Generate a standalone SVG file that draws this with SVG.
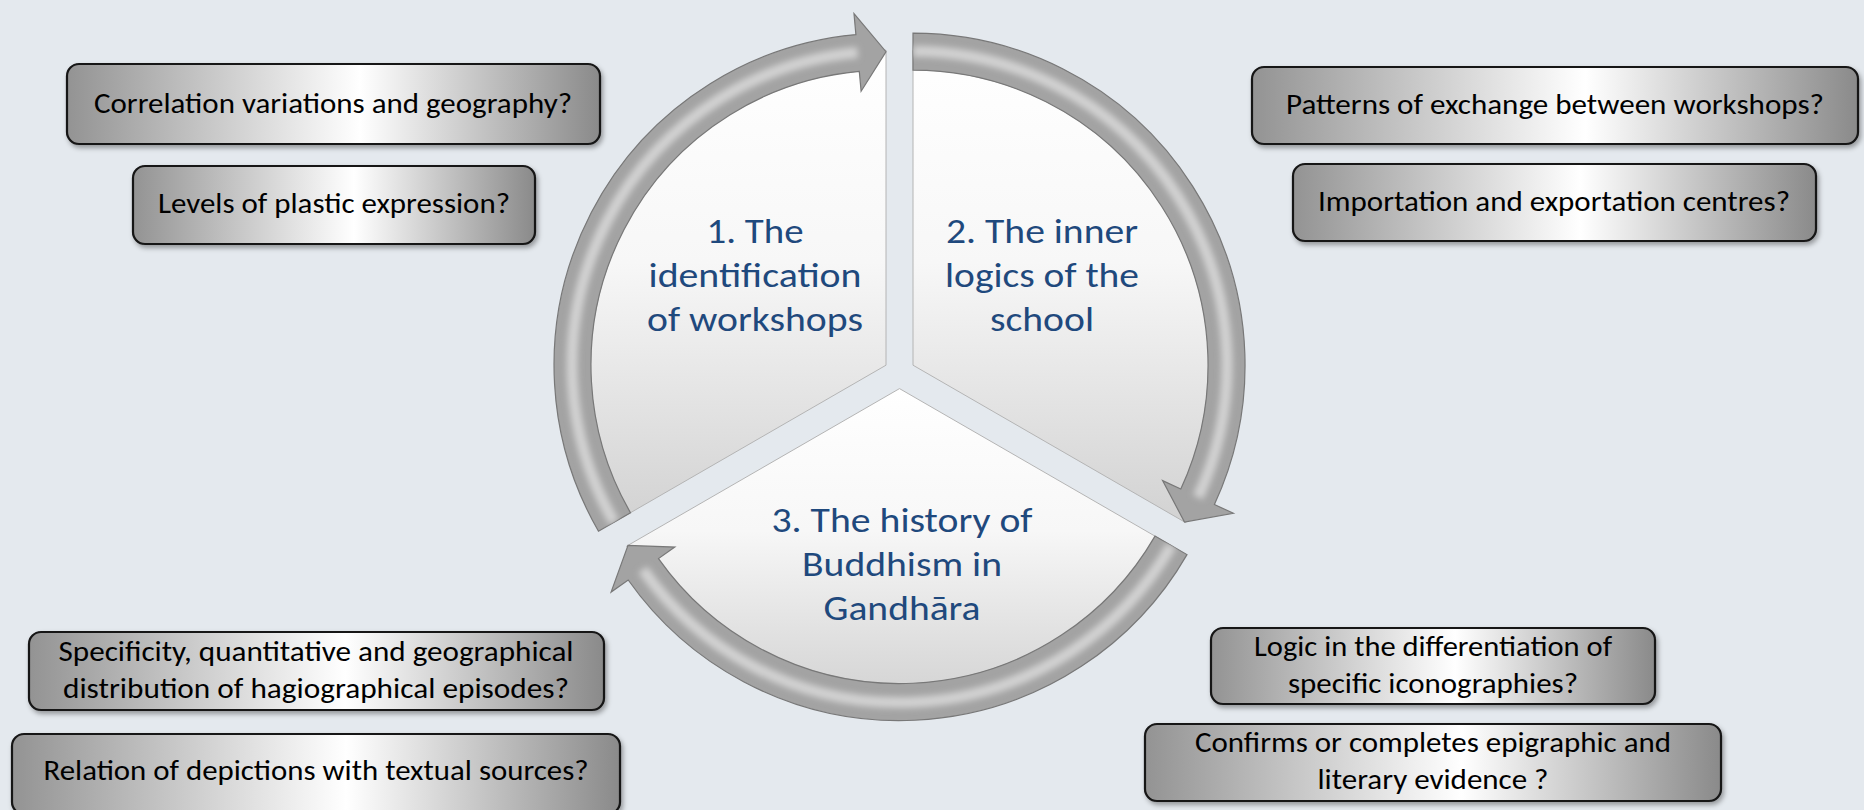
<svg xmlns="http://www.w3.org/2000/svg" xmlns:xlink="http://www.w3.org/1999/xlink" width="1864" height="810" viewBox="0 0 1864 810">
  <style>
    .box { stroke: #141414; stroke-width: 2.2; fill: url(#boxGrad); filter: url(#shadow); }
    .btxt { font-family: Carlito, Lato, "Liberation Sans", sans-serif; font-size: 28px; fill: #000000; text-anchor: middle; }
    .ctxt { font-family: Carlito, Lato, "Liberation Sans", sans-serif; font-size: 35px; fill: #1f497d; text-anchor: middle; }
    .slice { fill: url(#sliceGrad); stroke: #b4b4b4; stroke-width: 1; }
    .ring { fill: #a3a3a3; stroke: #787878; stroke-width: 1.2; }
    .hl { fill: none; stroke: #d2d2d2; stroke-width: 11; filter: url(#blur); }
  </style>
  <defs>
    <linearGradient id="boxGrad" x1="0" y1="0" x2="1" y2="0">
      <stop offset="0" stop-color="#939393"/>
      <stop offset="0.55" stop-color="#ffffff"/>
      <stop offset="1" stop-color="#8a8a8a"/>
    </linearGradient>
    <linearGradient id="sliceGrad" x1="0" y1="0" x2="0" y2="1">
      <stop offset="0" stop-color="#ffffff"/>
      <stop offset="0.45" stop-color="#f7f7f7"/>
      <stop offset="1" stop-color="#d2d2d2"/>
    </linearGradient>
    <filter id="shadow" x="-5%" y="-20%" width="110%" height="150%">
      <feDropShadow dx="2" dy="3" stdDeviation="2.5" flood-color="#000" flood-opacity="0.35"/>
    </filter>
    <filter id="blur" x="-10%" y="-10%" width="120%" height="120%">
      <feGaussianBlur stdDeviation="3"/>
    </filter>
    <path id="arrow1" d="M598.5 531.2 A332 332 0 0 1 855.9 34.6 L854 13.7 L886 51.7 L861.1 91.3 L859.3 71.4 A295 295 0 0 0 630.5 512.7 Z"/>
    <path id="arrow2" d="M913 33.2 A332 332 0 0 1 1214.4 504.5 L1233.4 513.3 L1184.5 522 L1162.6 480.6 L1180.8 489 A295 295 0 0 0 913 70.2 Z"/>
    <path id="arrow3" d="M1187 554.6 A332 332 0 0 1 628.2 580 L611.1 592.1 L628 545.4 L674.8 547.1 L658.5 558.6 A295 295 0 0 0 1155 536.1 Z"/>
    <clipPath id="clip1"><use xlink:href="#arrow1"/></clipPath>
    <clipPath id="clip2"><use xlink:href="#arrow2"/></clipPath>
    <clipPath id="clip3"><use xlink:href="#arrow3"/></clipPath>
  </defs>

  <rect x="0" y="0" width="1864" height="810" fill="#e4e9ee"/>

  <g id="slice1">
    <path class="slice" d="M886 365.2 L886 50.2 A315 315 0 0 0 613.2 522.7 Z"/>
    <text class="ctxt" x="755" y="243" textLength="97" lengthAdjust="spacingAndGlyphs">1. The</text>
    <text class="ctxt" x="755" y="287" textLength="213" lengthAdjust="spacingAndGlyphs">identification</text>
    <text class="ctxt" x="755" y="331" textLength="216" lengthAdjust="spacingAndGlyphs">of workshops</text>
  </g>
  <g id="slice2">
    <path class="slice" d="M913 365.2 L913 50.2 A315 315 0 0 1 1185.8 522.7 Z"/>
    <text class="ctxt" x="1042" y="243" textLength="192" lengthAdjust="spacingAndGlyphs">2. The inner</text>
    <text class="ctxt" x="1042" y="287" textLength="194" lengthAdjust="spacingAndGlyphs">logics of the</text>
    <text class="ctxt" x="1042" y="331" textLength="104" lengthAdjust="spacingAndGlyphs">school</text>
  </g>
  <g id="slice3">
    <path class="slice" d="M899.5 388.6 L1172.3 546.1 A315 315 0 0 1 626.7 546.1 Z"/>
    <text class="ctxt" x="902" y="532" textLength="261" lengthAdjust="spacingAndGlyphs">3. The history of</text>
    <text class="ctxt" x="902" y="576" textLength="200" lengthAdjust="spacingAndGlyphs">Buddhism in</text>
    <text class="ctxt" x="902" y="620" textLength="157" lengthAdjust="spacingAndGlyphs">Gandhāra</text>
  </g>

  <g id="connectors">
    <g id="arrow-1-2">
      <use xlink:href="#arrow1" class="ring"/>
      <path class="hl" clip-path="url(#clip1)" d="M614.1 522.2 A314 314 0 0 1 857.5 52.5"/>
    </g>
    <g id="arrow-2-3">
      <use xlink:href="#arrow2" class="ring"/>
      <path class="hl" clip-path="url(#clip2)" d="M913 51.2 A314 314 0 0 1 1198 497.2"/>
    </g>
    <g id="arrow-3-1">
      <use xlink:href="#arrow3" class="ring"/>
      <path class="hl" clip-path="url(#clip3)" d="M1171.4 545.6 A314 314 0 0 1 642.9 569.6"/>
    </g>
  </g>

  <g id="q-correlation">
    <rect class="box" x="67" y="64" width="533" height="80" rx="12"/>
    <text class="btxt" x="333" y="113" textLength="478" lengthAdjust="spacingAndGlyphs">Correlation variations and geography?</text>
  </g>
  <g id="q-levels">
    <rect class="box" x="133" y="166" width="402" height="78" rx="12"/>
    <text class="btxt" x="334" y="213" textLength="352" lengthAdjust="spacingAndGlyphs">Levels of plastic expression?</text>
  </g>
  <g id="q-patterns">
    <rect class="box" x="1252" y="67" width="606" height="77" rx="12"/>
    <text class="btxt" x="1555" y="114" textLength="538" lengthAdjust="spacingAndGlyphs">Patterns of exchange between workshops?</text>
  </g>
  <g id="q-importation">
    <rect class="box" x="1293" y="164" width="523" height="77" rx="12"/>
    <text class="btxt" x="1554" y="211" textLength="472" lengthAdjust="spacingAndGlyphs">Importation and exportation centres?</text>
  </g>
  <g id="q-specificity">
    <rect class="box" x="29" y="632" width="575" height="78" rx="12"/>
    <text class="btxt" x="316" y="661" textLength="515" lengthAdjust="spacingAndGlyphs">Specificity, quantitative and geographical</text>
    <text class="btxt" x="316" y="698" textLength="506" lengthAdjust="spacingAndGlyphs">distribution of hagiographical episodes?</text>
  </g>
  <g id="q-relation">
    <rect class="box" x="12" y="734" width="608" height="80" rx="12"/>
    <text class="btxt" x="316" y="780" textLength="545" lengthAdjust="spacingAndGlyphs">Relation of depictions with textual sources?</text>
  </g>
  <g id="q-logic">
    <rect class="box" x="1211" y="628" width="444" height="76" rx="12"/>
    <text class="btxt" x="1433" y="656" textLength="358" lengthAdjust="spacingAndGlyphs">Logic in the differentiation of</text>
    <text class="btxt" x="1433" y="693" textLength="290" lengthAdjust="spacingAndGlyphs">specific iconographies?</text>
  </g>
  <g id="q-confirms">
    <rect class="box" x="1145" y="724" width="576" height="77" rx="12"/>
    <text class="btxt" x="1433" y="752" textLength="476" lengthAdjust="spacingAndGlyphs">Confirms or completes epigraphic and</text>
    <text class="btxt" x="1433" y="789" textLength="231" lengthAdjust="spacingAndGlyphs">literary evidence ?</text>
  </g>
</svg>
